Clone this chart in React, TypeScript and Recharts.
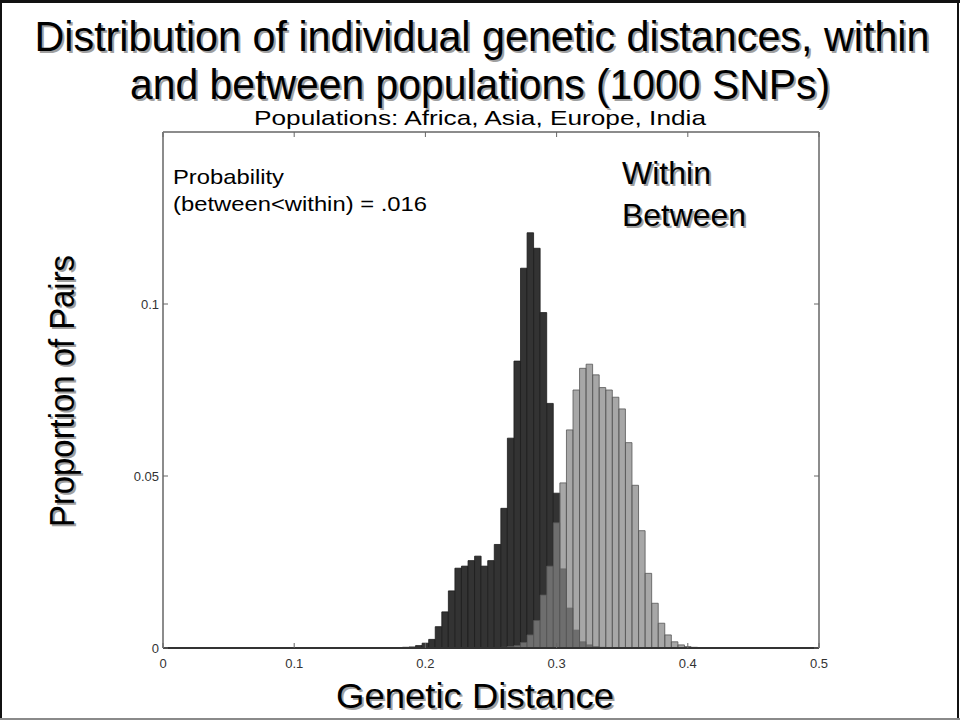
import React from 'react';
import { BarChart, Bar, XAxis, YAxis } from 'recharts';

// Histogram bin centers (genetic distance), bin width 0.005
const binCenters: number[] = Array.from({ length: 101 }, (_, i) => Number((i * 0.005).toFixed(3)));

// Proportion of pairs, within populations (dark bars)
const withinProportion: number[] = [
  0, 0, 0, 0, 0, 0, 0, 0, 0, 0,
  0, 0, 0, 0, 0, 0, 0, 0, 0, 0,
  0, 0, 0, 0, 0, 0, 0, 0, 0, 0,
  0, 0, 0, 0, 0, 0.0001, 0.0001, 0.0002, 0.0003, 0.0007,
  0.0014, 0.0025, 0.0062, 0.0105, 0.0166, 0.0232, 0.0238, 0.0254, 0.0267, 0.0238,
  0.0254, 0.0301, 0.0406, 0.061, 0.0834, 0.1104, 0.1207, 0.1162, 0.0975, 0.0711,
  0.045, 0.023, 0.0116, 0.0052, 0.0018, 0.0009, 0.0004, 0.0002, 0.0001, 0,
  0, 0, 0, 0, 0, 0, 0, 0, 0, 0,
  0, 0, 0, 0, 0, 0, 0, 0, 0, 0,
  0, 0, 0, 0, 0, 0, 0, 0, 0, 0,
  0,
];

// Proportion of pairs, between populations (light bars)
const betweenProportion: number[] = [
  0, 0, 0, 0, 0, 0, 0, 0, 0, 0,
  0, 0, 0, 0, 0, 0, 0, 0, 0, 0,
  0, 0, 0, 0, 0, 0, 0, 0, 0, 0,
  0, 0, 0, 0, 0, 0, 0, 0, 0, 0,
  0, 0, 0, 0, 0, 0, 0, 0, 0, 0,
  0, 0.0001, 0.0002, 0.0004, 0.0007, 0.0016, 0.0038, 0.008, 0.0154, 0.0238,
  0.0364, 0.048, 0.0634, 0.075, 0.0813, 0.0825, 0.0794, 0.0757, 0.075, 0.0729,
  0.0695, 0.0597, 0.0473, 0.0341, 0.0217, 0.013, 0.0072, 0.0038, 0.0018, 0.0009,
  0.0004, 0.0002, 0.0001, 0, 0, 0, 0, 0, 0, 0,
  0, 0, 0, 0, 0, 0, 0, 0, 0, 0,
  0,
];

const xTicks: number[] = [0, 0.1, 0.2, 0.3, 0.4, 0.5];
const yTicks: number[] = [0, 0.05, 0.1];
const xDomain: [number, number] = [0, 0.5];
const yDomain: [number, number] = [0, 0.15];

const data = binCenters.map((x, i) => ({
  x,
  within: withinProportion[i],
  between: betweenProportion[i],
}));

const FONT = "'Liberation Sans', Arial, Helvetica, sans-serif";
const fmt = (v: number) => String(Number(v.toFixed(3)));

const BottomTick = (props: any) => {
  const { x, y, payload } = props;
  return (
    <g>
      <line x1={x} y1={y} x2={x} y2={y - 5} stroke="#666" strokeWidth={1} />
      <text x={x} y={y + 20} textAnchor="middle" fontSize={13} fill="#333" fontFamily={FONT}>
        {fmt(payload.value)}
      </text>
    </g>
  );
};

const TopTick = (props: any) => {
  const { x, y } = props;
  return <line x1={x} y1={y} x2={x} y2={y + 5} stroke="#666" strokeWidth={1} />;
};

const LeftTick = (props: any) => {
  const { x, y, payload } = props;
  return (
    <g>
      <line x1={x} y1={y} x2={x + 5} y2={y} stroke="#666" strokeWidth={1} />
      <text x={x - 4} y={y + 5} textAnchor="end" fontSize={13} fill="#333" fontFamily={FONT}>
        {fmt(payload.value)}
      </text>
    </g>
  );
};

const RightTick = (props: any) => {
  const { x, y } = props;
  return <line x1={x} y1={y} x2={x - 5} y2={y} stroke="#666" strokeWidth={1} />;
};

type ShadowTextProps = {
  x: number;
  y: number;
  size: number;
  len?: number;
  anchor?: 'start' | 'middle' | 'end';
  rotate?: number;
  shadow?: boolean;
  children: string;
};

const ShadowText = ({ x, y, size, len, anchor = 'start', rotate, shadow = true, children }: ShadowTextProps) => {
  const common: any = {
    fontSize: size,
    fontFamily: FONT,
    textAnchor: anchor,
  };
  if (len) {
    common.textLength = len;
    common.lengthAdjust = 'spacingAndGlyphs';
  }
  const rot = rotate ? `rotate(${rotate} ${x} ${y})` : undefined;
  return (
    <g>
      {shadow && (
        <g transform="translate(2 2)">
          <text x={x} y={y} transform={rot} fill="#a0a0a0" {...common}>{children}</text>
        </g>
      )}
      <text x={x} y={y} transform={rot} fill="#000" {...common}>{children}</text>
    </g>
  );
};

export default function App() {
  return (
    <div style={{ position: 'absolute', left: 0, top: 0, width: 960, height: 721, background: '#fff' }}>
      <BarChart
        width={960}
        height={721}
        data={data}
        margin={{ top: 122, right: 131, bottom: 43, left: 123 }}
        barCategoryGap={0}
        barGap={0}
      >
        <XAxis
          xAxisId="w"
          dataKey="x"
          type="number"
          domain={xDomain}
          ticks={xTicks}
          interval={0}
          allowDataOverflow
          height={30}
          tickSize={0}
          tickMargin={0}
          tickLine={false}
          axisLine={{ stroke: '#333', strokeWidth: 2 }}
          tick={<BottomTick />}
        />
        <XAxis
          xAxisId="top"
          orientation="top"
          dataKey="x"
          type="number"
          domain={xDomain}
          ticks={xTicks}
          interval={0}
          allowDataOverflow
          height={10}
          tickSize={0}
          tickMargin={0}
          tickLine={false}
          axisLine={{ stroke: '#8c8c8c', strokeWidth: 2 }}
          tick={<TopTick />}
        />
        <YAxis
          domain={yDomain}
          ticks={yTicks}
          interval={0}
          allowDataOverflow
          width={40}
          tickSize={0}
          tickMargin={0}
          tickLine={false}
          axisLine={{ stroke: '#8c8c8c', strokeWidth: 2 }}
          tick={<LeftTick />}
        />
        <YAxis
          yAxisId="r"
          orientation="right"
          domain={yDomain}
          ticks={yTicks}
          interval={0}
          allowDataOverflow
          width={10}
          tickSize={0}
          tickMargin={0}
          tickLine={false}
          axisLine={{ stroke: '#8c8c8c', strokeWidth: 2 }}
          tick={<RightTick />}
        />
        <Bar
          xAxisId="w"
          dataKey="within"
          name="Within"
          barSize={6.5}
          fill="#333333"
          stroke="#1c1c1c"
          strokeWidth={0.8}
          isAnimationActive={false}
        />
        <Bar
          xAxisId="top"
          dataKey="between"
          name="Between"
          barSize={6.5}
          fill="#858585"
          fillOpacity={0.72}
          stroke="#555"
          strokeWidth={0.8}
          isAnimationActive={false}
        />
      </BarChart>
      <svg
        width={960}
        height={721}
        style={{ position: 'absolute', left: 0, top: 0, pointerEvents: 'none' }}
      >
        <line x1={0} y1={1.5} x2={960} y2={1.5} stroke="#111" strokeWidth={3} />
        <line x1={1} y1={0} x2={1} y2={720} stroke="#111" strokeWidth={2} />
        <line x1={958} y1={0} x2={958} y2={720} stroke="#111" strokeWidth={2} />
        <line x1={0} y1={719} x2={960} y2={719} stroke="#8a8a8a" strokeWidth={2} />

        <ShadowText x={482} y={51} size={42} len={895} anchor="middle">
          Distribution of individual genetic distances, within
        </ShadowText>
        <ShadowText x={480} y={99} size={42} len={700} anchor="middle">
          and between populations (1000 SNPs)
        </ShadowText>
        <ShadowText x={480} y={125} size={21} len={452} anchor="middle" shadow={false}>
          Populations: Africa, Asia, Europe, India
        </ShadowText>

        <ShadowText x={173} y={184} size={21} len={111} shadow={false}>
          Probability
        </ShadowText>
        <ShadowText x={173} y={211} size={21} len={254} shadow={false}>
          {'(between<within) = .016'}
        </ShadowText>

        <ShadowText x={622} y={184} size={32} len={89}>
          Within
        </ShadowText>
        <ShadowText x={622} y={226} size={32} len={124}>
          Between
        </ShadowText>

        <ShadowText x={475} y={708} size={35} len={278} anchor="middle">
          Genetic Distance
        </ShadowText>
        <ShadowText x={74} y={391} size={35} len={272} anchor="middle" rotate={-90}>
          Proportion of Pairs
        </ShadowText>
      </svg>
    </div>
  );
}
